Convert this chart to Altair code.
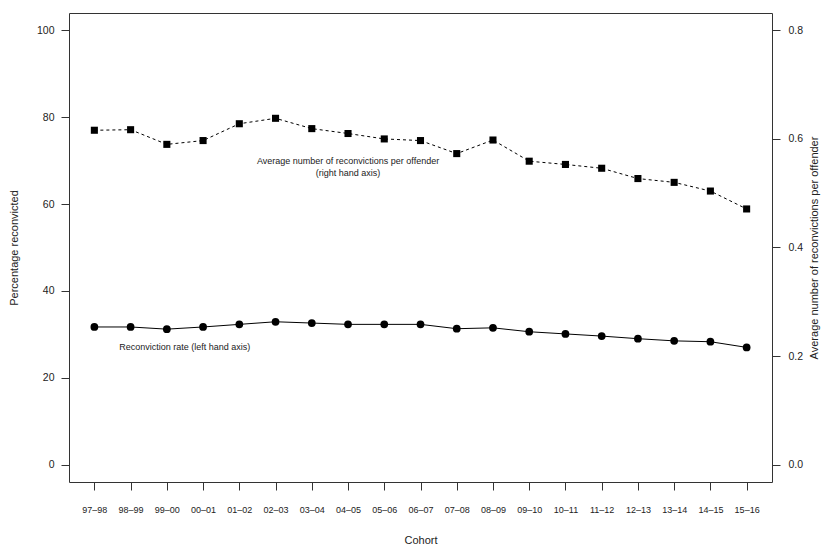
import altair as alt
import pandas as pd

cohorts = ["97–98", "98–99", "99–00", "00–01", "01–02", "02–03", "03–04",
           "04–05", "05–06", "06–07", "07–08", "08–09", "09–10", "10–11",
           "11–12", "12–13", "13–14", "14–15", "15–16"]
rate_pct = [31.7, 31.7, 31.2, 31.7, 32.3, 32.9, 32.6, 32.3, 32.3, 32.3,
            31.3, 31.5, 30.6, 30.1, 29.6, 29.0, 28.5, 28.3, 27.0]
avg_reconv = [0.616, 0.617, 0.590, 0.597, 0.628, 0.638, 0.619, 0.610, 0.600,
              0.597, 0.573, 0.598, 0.559, 0.553, 0.546, 0.527, 0.520, 0.504,
              0.471]

note_text = ["Average number of reconvictions per offender", "(right hand axis)"]
note_cohort = ["04–05", "04–05"]
note_value = [70.0, 67.2]
note2_text = ["Reconviction rate (left hand axis)"]
note2_cohort = ["99–00"]
note2_value = [27.2]

FONT = "Liberation Sans"
INK = "#333333"

df = pd.DataFrame({"cohort": cohorts, "rate": rate_pct, "avg": avg_reconv})
notes = pd.DataFrame({"cohort": note_cohort, "value": note_value, "text": note_text})
notes2 = pd.DataFrame({"cohort": note2_cohort, "value": note2_value, "text": note2_text})

x = alt.X("cohort:N", sort=cohorts, title="Cohort",
          scale=alt.Scale(type="point", padding=0.7),
          axis=alt.Axis(labelAngle=0, labelFontSize=9, labelBaseline="middle",
                        labelPadding=19, tickSize=8, titlePadding=20))

y_left = alt.Y("rate:Q", title="Percentage reconvicted",
               scale=alt.Scale(domain=[-4, 104], nice=False, zero=False),
               axis=alt.Axis(values=[0, 20, 40, 60, 80, 100], tickSize=8,
                             labelPadding=7, labelFontSize=10.5, titlePadding=17))

y_right = alt.Y("avg:Q", title="Average number of reconvictions per offender",
                scale=alt.Scale(domain=[-0.032, 0.832], nice=False, zero=False),
                axis=alt.Axis(orient="right", values=[0, 0.2, 0.4, 0.6, 0.8],
                              format=".1f", tickSize=8, labelPadding=8,
                              labelFontSize=10.5, titlePadding=6, titleAngle=270,
                              titleBaseline="top"))

base = alt.Chart(df)

rate_line = base.mark_line(color="black", strokeWidth=1).encode(x=x, y=y_left)
rate_pts = base.mark_circle(color="black", size=60, opacity=1).encode(x=x, y=y_left)

y_note = alt.Y("value:Q", scale=alt.Scale(domain=[-4, 104], nice=False, zero=False))
note_marks = alt.Chart(notes).mark_text(font=FONT, fontSize=9, color="#222").encode(
    x=x, y=y_note, text="text:N")
note2_marks = alt.Chart(notes2).mark_text(font=FONT, fontSize=9, color="#222", dx=18).encode(
    x=x, y=y_note, text="text:N")

left = alt.layer(rate_line, rate_pts, note_marks, note2_marks)

avg_line = base.mark_line(color="black", strokeWidth=1, strokeDash=[3, 3]).encode(x=x, y=y_right)
avg_pts = base.mark_square(color="black", size=50, opacity=1).encode(x=x, y=y_right)
right = alt.layer(avg_line, avg_pts)

chart = (
    alt.layer(left, right)
    .resolve_scale(y="independent")
    .properties(width=703, height=469, autosize=alt.AutoSizeParams(type="none"),
                padding={"left": 61, "top": 5, "right": 55, "bottom": 70})
    .configure_view(stroke=INK, strokeWidth=1)
    .configure_axis(domain=False, grid=False, tickColor=INK, tickWidth=1,
                    labelColor="#222", labelFont=FONT, titleFont=FONT,
                    titleFontSize=11, titleFontWeight="normal", titleColor="#222")
)

chart.save("out.html", embed_options={"renderer": "svg", "actions": False})
